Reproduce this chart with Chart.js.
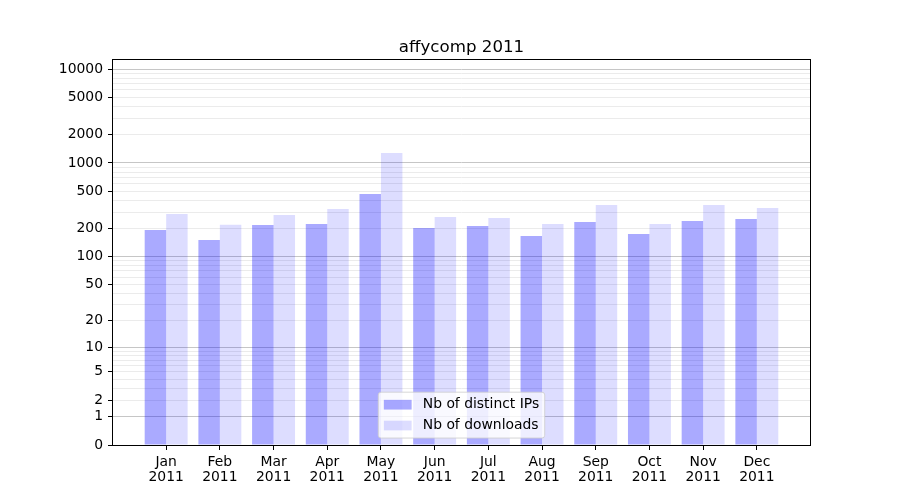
<!DOCTYPE html>
<html>
<head>
<meta charset="utf-8">
<script src="https://cdn.jsdelivr.net/npm/chart.js@4/dist/chart.umd.min.js"></script>
<style>html,body{margin:0;padding:0;background:#fff;}</style>
</head>
<body>
<canvas id="c" width="900" height="500"></canvas>
<script>
const months = ['Jan','Feb','Mar','Apr','May','Jun','Jul','Aug','Sep','Oct','Nov','Dec'];
const yearLabel = '2011';
const distinctIPs = [193, 151, 218, 223, 467, 202, 213, 166, 235, 175, 240, 253];
const downloads   = [286, 219, 279, 323, 1277, 265, 259, 223, 357, 223, 357, 331];
const yTickLabels = [0, 1, 2, 5, 10, 20, 50, 100, 200, 500, 1000, 2000, 5000, 10000];
const yMajorGrid  = [1, 10, 100, 1000, 10000];
const yMax = 12470;
const seriesNames = ['Nb of distinct IPs', 'Nb of downloads'];
const chartTitle = 'affycomp 2011';

// log10(v+1) transform used by the y axis
const tf = v => Math.log10(v + 1);

// grid positions: 0, then 1..9 x each decade, then 10000
const gridVals = [0];
for (const d of [1, 10, 100, 1000]) for (let k = 1; k <= 9; k++) gridVals.push(k * d);
gridVals.push(10000);

const FONT = 'DejaVu Sans';
const FS = 13.9;

const decorPlugin = {
  id: 'mplDecor',
  afterDraw(chart) {
    const ctx = chart.ctx, ca = chart.chartArea;
    ctx.save();
    // title, centred over the axes
    ctx.font = '16.67px "' + FONT + '"';
    ctx.fillStyle = '#000';
    ctx.textAlign = 'center';
    ctx.textBaseline = 'alphabetic';
    ctx.fillText(chartTitle, (ca.left + ca.right) / 2, ca.top - 8.3 - 0.2);
    // spines
    ctx.strokeStyle = '#000';
    ctx.lineWidth = 1;
    ctx.strokeRect(Math.round(ca.left) - 0.5, Math.round(ca.top) - 0.5,
                   Math.round(ca.right) - Math.round(ca.left) + 1, Math.round(ca.bottom) - Math.round(ca.top) + 1);
    // legend
    ctx.font = FS + 'px "' + FONT + '"';
    const bp = 0.4 * FS, hl = 2.0 * FS, htp = 0.8 * FS, ls = 0.5 * FS;
    const ds = chart.data.datasets;
    let tw = 0;
    ds.forEach(d => { tw = Math.max(tw, ctx.measureText(d.label).width); });
    const w = 2 * bp + hl + htp + tw;
    const h = 2 * bp + ds.length * FS + (ds.length - 1) * ls;
    const x = (ca.left + ca.right) / 2 - w / 2;
    const y = ca.bottom - 0.5 * FS - h;
    const r = 0.2 * FS;
    ctx.beginPath();
    ctx.moveTo(x + r, y);
    ctx.lineTo(x + w - r, y); ctx.quadraticCurveTo(x + w, y, x + w, y + r);
    ctx.lineTo(x + w, y + h - r); ctx.quadraticCurveTo(x + w, y + h, x + w - r, y + h);
    ctx.lineTo(x + r, y + h); ctx.quadraticCurveTo(x, y + h, x, y + h - r);
    ctx.lineTo(x, y + r); ctx.quadraticCurveTo(x, y, x + r, y);
    ctx.closePath();
    ctx.fillStyle = 'rgba(255,255,255,0.8)';
    ctx.fill();
    ctx.strokeStyle = 'rgba(204,204,204,0.8)';
    ctx.stroke();
    ds.forEach((d, i) => {
      const cy = y + bp + i * (FS + ls) + FS / 2;
      ctx.fillStyle = d.backgroundColor;
      ctx.fillRect(x + bp, cy - 0.35 * FS, hl, 0.7 * FS);
      ctx.fillStyle = '#000';
      ctx.textBaseline = 'middle';
      ctx.textAlign = 'left';
      ctx.fillText(d.label, x + bp + hl + htp, cy);
    });
    ctx.restore();
  }
};

const n = months.length;
const xPad = 0.05 * ((n - 1 + 0.4) - (-0.4));

new Chart(document.getElementById('c'), {
  type: 'bar',
  data: {
    datasets: [
      { label: seriesNames[0], data: distinctIPs.map((v, i) => ({ x: i, y: tf(v) })),
        backgroundColor: 'rgba(0,0,255,0.333)', borderWidth: 0 },
      { label: seriesNames[1], data: downloads.map((v, i) => ({ x: i, y: tf(v) })),
        backgroundColor: 'rgba(0,0,255,0.133)', borderWidth: 0 }
    ]
  },
  options: {
    responsive: false,
    animation: false,
    devicePixelRatio: 1,
    layout: { padding: { left: 0, right: 90, top: 60, bottom: 0 } },
    datasets: { bar: { categoryPercentage: 0.8, barPercentage: 1.0 } },
    plugins: {
      legend: { display: false },
      tooltip: { enabled: false },
      title: { display: false }
    },
    scales: {
      x: {
        type: 'linear', offset: false,
        min: -0.4 - xPad, max: (n - 1 + 0.4) + xPad,
        afterBuildTicks: axis => { axis.ticks = months.map((_, i) => ({ value: i })); },
        afterFit: s => { s.height = 55; },
        grid: { display: true, drawOnChartArea: false, drawTicks: true, offset: false,
                tickLength: 5, tickColor: '#000', tickWidth: 1 },
        border: { display: false },
        ticks: {
          autoSkip: false, maxRotation: 0, color: '#000', padding: 5,
          font: { family: FONT, size: FS, lineHeight: 1.08 },
          callback: (v, i) => [months[i], yearLabel]
        }
      },
      y: {
        type: 'linear', min: 0, max: tf(yMax),
        afterBuildTicks: axis => { axis.ticks = gridVals.map(v => ({ value: tf(v) })); },
        afterFit: s => { s.width = 113; },
        grid: {
          drawTicks: true, tickLength: 5, tickWidth: 1, lineWidth: 1,
          color: c => {
            const v = gridVals[c.index];
            if (v === 0) return 'rgba(0,0,0,0)';
            return yMajorGrid.includes(v) ? '#c6c6c6' : '#ebebeb';
          },
          tickColor: c => yTickLabels.includes(gridVals[c.index]) ? '#000' : 'rgba(0,0,0,0)'
        },
        border: { display: false },
        ticks: {
          autoSkip: false, color: '#000', padding: 5,
          font: { family: FONT, size: FS },
          callback: (v, i) => yTickLabels.includes(gridVals[i]) ? String(gridVals[i]) : ''
        }
      }
    }
  },
  plugins: [decorPlugin]
});
</script>
</body>
</html>
